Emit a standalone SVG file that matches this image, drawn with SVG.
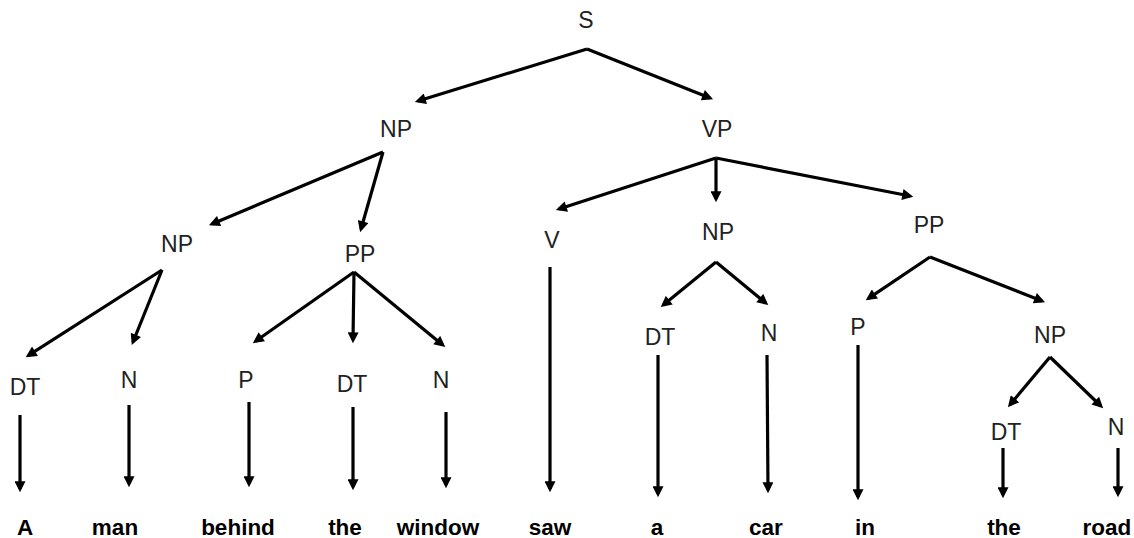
<svg xmlns="http://www.w3.org/2000/svg" width="1134" height="538" viewBox="0 0 1134 538">
  <style>
    .lbl { font-family: "Liberation Sans", Arial, sans-serif; font-size: 23px; fill: #222; text-anchor: middle; }
    .word { font-family: "Liberation Sans", Arial, sans-serif; font-size: 22.5px; font-weight: bold; fill: #000; text-anchor: middle; }
    .edge { stroke: #000; stroke-width: 3.2; fill: none; marker-end: url(#head); }
  </style>
  <defs>
    <marker id="head" viewBox="0 0 10 10" markerUnits="userSpaceOnUse" markerWidth="12" markerHeight="11" refX="7" refY="5" orient="auto">
      <path d="M0,0 L10,5 L0,10 z" fill="#000"/>
    </marker>
  </defs>

  <rect width="1134" height="538" fill="#fff"/>

  <g id="connectors">
    <!-- S -->
    <path class="edge" d="M587,49 L418,101"/>
    <path class="edge" d="M587,49 L710,98"/>
    <!-- NP (subject) -->
    <path class="edge" d="M383,152 L212,224"/>
    <path class="edge" d="M383,152 L361,229"/>
    <!-- VP -->
    <path class="edge" d="M716,158 L559,209"/>
    <path class="edge" d="M716,158 L716,199"/>
    <path class="edge" d="M716,158 L910,196"/>
    <!-- NP (A man) -->
    <path class="edge" d="M162,270 L28.5,355.4"/>
    <path class="edge" d="M162,270 L133,342"/>
    <!-- PP (behind the window) -->
    <path class="edge" d="M354,272 L255.5,341.3"/>
    <path class="edge" d="M354,272 L353,340"/>
    <path class="edge" d="M354,272 L442.7,345"/>
    <!-- NP (a car) -->
    <path class="edge" d="M716,262 L663.3,305"/>
    <path class="edge" d="M716,262 L765.7,303"/>
    <!-- PP (in the road) -->
    <path class="edge" d="M930,257 L868.5,298.3"/>
    <path class="edge" d="M930,257 L1042,301"/>
    <!-- NP (the road) -->
    <path class="edge" d="M1050,357 L1010,404.7"/>
    <path class="edge" d="M1050,357 L1100.8,406"/>
    <!-- tags to words -->
    <path class="edge" d="M20,415 L20,489"/>
    <path class="edge" d="M129,405 L129,484"/>
    <path class="edge" d="M249,402 L249,484"/>
    <path class="edge" d="M353,407 L353,487"/>
    <path class="edge" d="M446,412 L446,485"/>
    <path class="edge" d="M550,267 L550,489"/>
    <path class="edge" d="M658,355 L658,494"/>
    <path class="edge" d="M767,355 L768,490"/>
    <path class="edge" d="M858,345 L858,497"/>
    <path class="edge" d="M1003,448 L1003,495"/>
    <path class="edge" d="M1118,448 L1118,494"/>
  </g>

  <g id="node-S"><text class="lbl" x="586" y="28">S</text></g>
  <g id="node-NP-subj"><text class="lbl" x="396" y="137">NP</text></g>
  <g id="node-VP"><text class="lbl" x="717" y="137">VP</text></g>
  <g id="node-NP-a-man"><text class="lbl" x="177" y="252">NP</text></g>
  <g id="node-PP-behind"><text class="lbl" x="360" y="262">PP</text></g>
  <g id="node-V"><text class="lbl" x="552" y="248">V</text></g>
  <g id="node-NP-a-car"><text class="lbl" x="718" y="240">NP</text></g>
  <g id="node-PP-in"><text class="lbl" x="929" y="233">PP</text></g>
  <g id="node-DT-A"><text class="lbl" x="25" y="395">DT</text></g>
  <g id="node-N-man"><text class="lbl" x="129" y="388">N</text></g>
  <g id="node-P-behind"><text class="lbl" x="246" y="388">P</text></g>
  <g id="node-DT-the1"><text class="lbl" x="352" y="392">DT</text></g>
  <g id="node-N-window"><text class="lbl" x="441" y="388">N</text></g>
  <g id="node-DT-a"><text class="lbl" x="660" y="345">DT</text></g>
  <g id="node-N-car"><text class="lbl" x="769" y="341">N</text></g>
  <g id="node-P-in"><text class="lbl" x="858" y="335">P</text></g>
  <g id="node-NP-the-road"><text class="lbl" x="1050" y="343">NP</text></g>
  <g id="node-DT-the2"><text class="lbl" x="1006" y="440">DT</text></g>
  <g id="node-N-road"><text class="lbl" x="1116" y="435">N</text></g>

  <g id="words">
    <text class="word" x="25" y="535">A</text>
    <text class="word" x="115" y="535">man</text>
    <text class="word" x="238" y="535">behind</text>
    <text class="word" x="345" y="535">the</text>
    <text class="word" x="438" y="535">window</text>
    <text class="word" x="550" y="535">saw</text>
    <text class="word" x="657" y="535">a</text>
    <text class="word" x="766" y="535">car</text>
    <text class="word" x="865" y="535">in</text>
    <text class="word" x="1004" y="535">the</text>
    <text class="word" x="1107" y="535">road</text>
  </g>
</svg>
